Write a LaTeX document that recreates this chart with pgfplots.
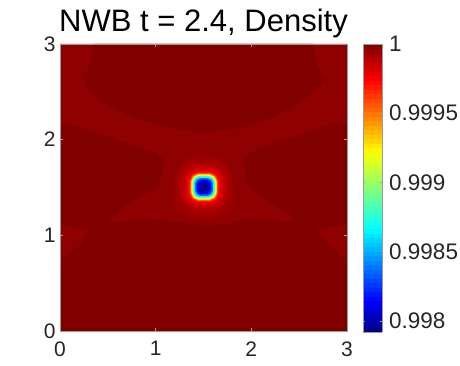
\documentclass[border=0pt]{standalone}
\usepackage{pgfplots}
\usepackage{fontspec}
\setmainfont{Liberation Sans}
\pgfplotsset{compat=1.18}
\definecolor{txt}{HTML}{262626}
\definecolor{frame}{HTML}{9A9A9A}
\definecolor{dark}{HTML}{800000}
\definecolor{med}{HTML}{8F0000}
\definecolor{ring}{HTML}{980000}
\definecolor{c1}{HTML}{A00000}
\definecolor{c2}{HTML}{B00000}
\definecolor{c3}{HTML}{C00000}
\definecolor{c4}{HTML}{D80000}
\definecolor{c5}{HTML}{F00000}
\definecolor{c6}{HTML}{FF2000}
\definecolor{c7}{HTML}{FF8000}
\definecolor{c8}{HTML}{FFFF00}
\definecolor{c9}{HTML}{80FF80}
\definecolor{c10}{HTML}{00FFFF}
\definecolor{c11}{HTML}{0080FF}
\definecolor{c12}{HTML}{0040FF}
\definecolor{c13}{HTML}{0000FF}
\definecolor{c14}{HTML}{0000C0}
\definecolor{c15}{HTML}{000090}
\newcommand\band[7]{\addplot[fill=#1,draw=none,forget plot] coordinates {(#3,#4)(#3,#5)(#7,#7)(#5,#3)(#4,#3)(#6,#7)(#2,#5)(#2,#4)(#6,#6)(#4,#2)(#5,#2)(#7,#6)(#3,#4)};}
\begin{document}
\begin{tikzpicture}
\path[use as bounding box] (0pt,0pt) rectangle (460pt,366pt);
\begin{axis}[
  at={(60pt,35pt)},anchor=south west,
  scale only axis,width=287pt,height=287pt,
  xmin=0,xmax=3,ymin=0,ymax=3,
  xtick={0,1,2,3},ytick={0,1,2,3},
  tick align=inside,tickwidth=3pt,
  major tick style={frame,line width=0.5pt},
  axis line style={frame,line width=0.8pt},
  axis on top,
  ticklabel style={font=\fontsize{21}{21}\selectfont,text=txt,/pgf/number format/assume math mode=true},
  xticklabel style={yshift=-7pt},
  yticklabel style={xshift=-1pt},
  title={NWB t = 2.4, Density},
  title style={font=\fontsize{31}{31}\selectfont,text=black,at={(0.5,1)},anchor=south,yshift=-1pt,inner sep=1pt},
  colormap={matjet}{rgb(0pt)=(0,0,0.5) rgb(14pt)=(0,0,1) rgb(46pt)=(0,1,1) rgb(80pt)=(1,1,0) rgb(112pt)=(1,0,0) rgb(128pt)=(0.5,0,0)},
  colorbar sampled,
  colorbar shift/.style={xshift=7pt},
  point meta min=0.99792,point meta max=1,
  colorbar style={
    scale only axis,width=19pt,height=288pt,
    samples=65,
    ytick={0.998,0.9985,0.999,0.9995,1},
    yticklabels={0.998,0.9985,0.999,0.9995,1},
    yticklabel pos=right,
    tick align=inside,
    major tick length=2pt,
    major tick style={frame,line width=0.5pt},
    axis line style={frame,line width=0.6pt},
    yticklabel style={font=\fontsize{22.5}{22.5}\selectfont,text=txt,xshift=3.5pt},
    scaled y ticks=false,
    axis on top,
  },
]
\addplot[fill=med,draw=none,forget plot] coordinates {(0,0)(3,0)(3,3)(0,3)(0,0)};
\addplot[fill=dark,draw=none,forget plot] coordinates {
 (0.350,3)(0.325,2.808)(0.245,2.633)(0.290,2.529)(0.483,2.372)(0.762,2.232)(1.112,2.128)(1.497,2.075)
 (1.881,2.121)(2.231,2.232)(2.510,2.389)(2.703,2.546)(2.755,2.633)(2.685,2.773)(2.650,3)(0.350,3)};
\addplot[fill=dark,draw=none,forget plot] coordinates {
 (0,2.180)(0.168,2.145)(0.483,2.040)(0.762,1.936)(1.007,1.859)(1.087,1.796)(1.077,1.657)(1.007,1.482)
 (0.762,1.378)(0.500,1.141)(1.007,1.161)(1.252,1.134)(1.497,1.099)(1.741,1.116)(1.881,1.158)(2.231,1.151)
 (2.503,1.141)(2.231,1.325)(2.021,1.454)(1.951,1.587)(1.916,1.796)(1.969,1.859)(2.231,1.953)(2.580,2.075)
 (2.790,2.145)(3,2.180)(3,1.106)(2.685,1.074)(2.790,0.924)(3,0.750)(3,0)(0,0)(0,0.750)(0.203,0.889)
 (0.308,1.064)(0,1.106)(0,2.180)};
\addplot[fill=ring,draw=none,forget plot] coordinates {
 (1.497,1.859)(1.322,1.813)(1.224,1.691)(1.182,1.517)(1.154,1.360)(1.217,1.238)(1.357,1.169)(1.497,1.151)
 (1.636,1.169)(1.794,1.238)(1.853,1.360)(1.811,1.517)(1.776,1.691)(1.671,1.813)(1.497,1.859)};
\band{c1}{1.212}{1.798}{1.373}{1.637}{1.276}{1.734}
\band{c2}{1.254}{1.756}{1.392}{1.618}{1.309}{1.701}
\band{c3}{1.285}{1.725}{1.406}{1.604}{1.333}{1.677}
\band{c4}{1.311}{1.699}{1.418}{1.592}{1.349}{1.661}
\band{c5}{1.338}{1.672}{1.430}{1.580}{1.368}{1.642}
\band{c6}{1.353}{1.657}{1.437}{1.573}{1.380}{1.630}
\band{c7}{1.364}{1.646}{1.442}{1.568}{1.389}{1.621}
\band{c8}{1.374}{1.636}{1.446}{1.564}{1.398}{1.612}
\band{c9}{1.385}{1.625}{1.451}{1.559}{1.407}{1.603}
\band{c10}{1.397}{1.613}{1.456}{1.554}{1.416}{1.594}
\band{c11}{1.411}{1.599}{1.463}{1.547}{1.428}{1.582}
\band{c12}{1.421}{1.589}{1.467}{1.543}{1.436}{1.574}
\band{c13}{1.432}{1.578}{1.472}{1.538}{1.445}{1.565}
\band{c14}{1.447}{1.563}{1.479}{1.531}{1.457}{1.553}
\band{c15}{1.468}{1.542}{1.488}{1.522}{1.475}{1.535}
\end{axis}
\end{tikzpicture}
\end{document}
